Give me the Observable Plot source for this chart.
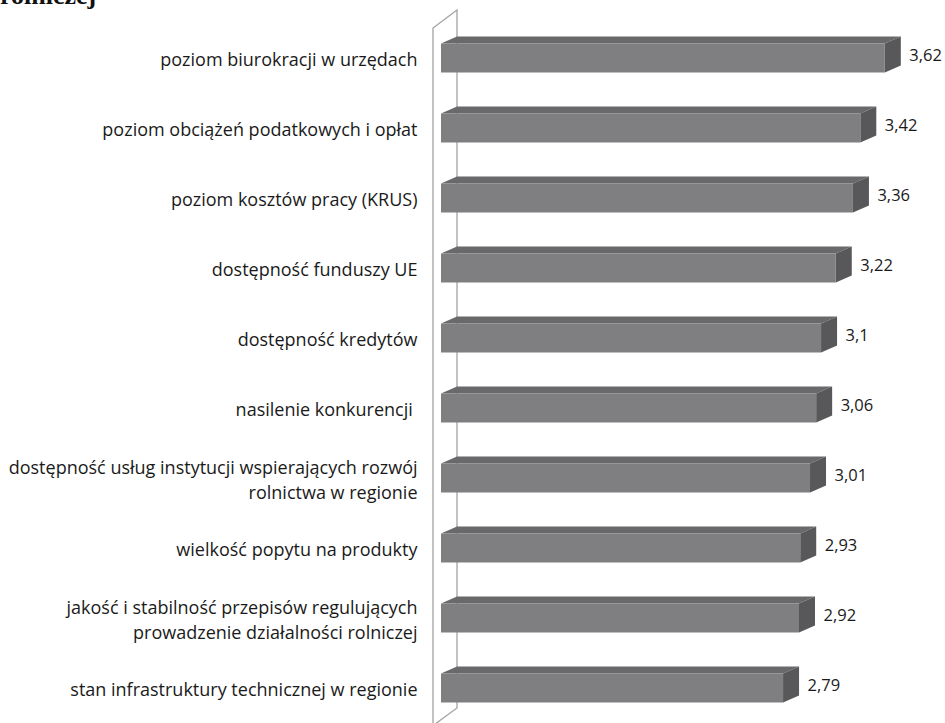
<!DOCTYPE html>
<html><head><meta charset="utf-8">
<script src="https://cdn.jsdelivr.net/npm/d3@7"></script>
<script src="https://cdn.jsdelivr.net/npm/@observablehq/plot@0.6"></script>
<style>
body{margin:0;background:#fff;overflow:hidden}
#wrap{position:relative;width:945px;height:723px}
#title{position:absolute;left:0;top:-17px;font:bold 26px "Liberation Serif","DejaVu Serif",serif;color:#111;line-height:26px;white-space:nowrap}
</style>
</head><body>
<div id="wrap"><div id="title">rolniczej</div><div id="chart"></div></div>
<script>
const labels = [
  "poziom biurokracji w urzędach",
  "poziom obciążeń podatkowych i opłat",
  "poziom kosztów pracy (KRUS)",
  "dostępność funduszy UE",
  "dostępność kredytów",
  "nasilenie konkurencji ",
  "dostępność usług instytucji wspierających rozwój\nrolnictwa w regionie",
  "wielkość popytu na produkty",
  "jakość i stabilność przepisów regulujących\nprowadzenie działalności rolniczej",
  "stan infrastruktury technicznej w regionie"
];
const values = [3.62, 3.42, 3.36, 3.22, 3.1, 3.06, 3.01, 2.93, 2.92, 2.79];
const valueLabels = ["3,62", "3,42", "3,36", "3,22", "3,1", "3,06", "3,01", "2,93", "2,92", "2,79"];

const data = labels.map((label, i) => ({label, value: values[i], text: valueLabels[i]}));

const DX = 16, DY = 7;
const font = "'Open Sans', 'Noto Sans', sans-serif";

const chart = Plot.plot({
  width: 945,
  height: 723,
  marginLeft: 441,
  marginRight: 13.6,
  marginTop: 22.5,
  marginBottom: 0.5,
  style: {fontFamily: font, background: "transparent", overflow: "visible"},
  x: {domain: [0, 4], axis: null},
  y: {domain: labels, padding: 0, axis: null},
  marks: [
    Plot.barX(data, {x: "value", y: "label", fill: "#7f7f81", insetTop: 20.5, insetBottom: 20.5, className: "front"}),
    Plot.text(data, {x: 0, y: "label", text: "label", textAnchor: "end", dx: -24, fontSize: 18, lineHeight: 1.38, fill: "#1a1a1a"}),
    Plot.text(data, {x: "value", y: "label", text: "text", textAnchor: "start", dx: DX + 8, dy: -3, fontSize: 16.5, fill: "#1a1a1a"})
  ]
});

document.getElementById("chart").appendChild(chart);

const svg = d3.select(chart);
// 3D faces derived from the bar rectangles drawn by Plot
svg.selectAll("g.front rect").each(function() {
  const r = d3.select(this);
  const x = +r.attr("x"), y = +r.attr("y"), w = +r.attr("width"), h = +r.attr("height");
  const g = d3.select(this.parentNode);
  g.insert("polygon", () => this)
    .attr("points", [[x, y], [x + w, y], [x + w + DX, y - DY], [x + DX, y - DY]].join(" "))
    .attr("fill", "#69696b");
  g.insert("polygon", () => this)
    .attr("points", [[x + w, y], [x + w + DX, y - DY], [x + w + DX, y + h - DY], [x + w, y + h]].join(" "))
    .attr("fill", "#58585a");
});

// wall (category axis plane)
const sx = chart.scale("x"), sy = chart.scale("y");
const x0 = sx.apply(0);
const yTop = sy.range[0], yBot = sy.range[1];
const fx = x0 - 8, bx = x0 + 16;
const wall = svg.insert("g", ":first-child").attr("fill", "none").attr("stroke", "#a3a3a3").attr("stroke-width", 1.3);
wall.append("polyline").attr("points", [[fx, yBot + 6], [fx, yTop + 5.5], [bx, yTop - 12.5], [bx, yBot - 14.5], [fx - 4, yBot + 6]].join(" "));
</script>
</body></html>
